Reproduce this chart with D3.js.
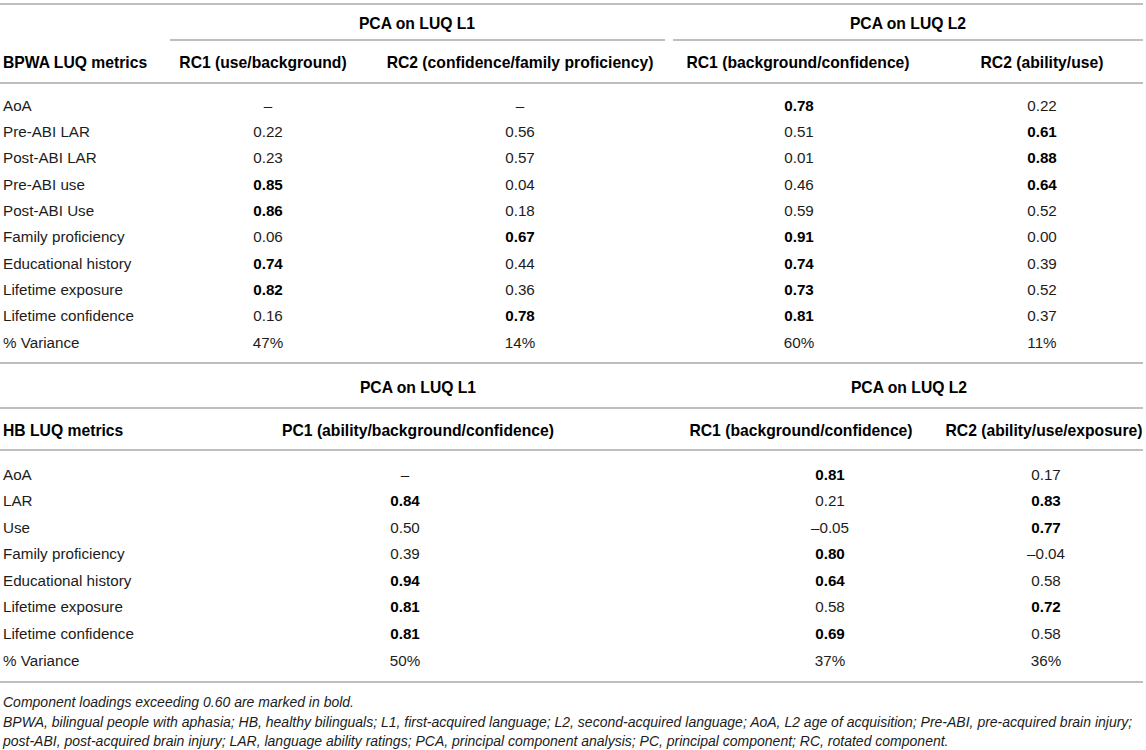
<!DOCTYPE html>
<html>
<head>
<meta charset="utf-8">
<script src="https://cdn.jsdelivr.net/npm/d3@7"></script>
<style>
  body { margin: 0; background: #fff; }
  svg text { font-family: "Liberation Sans", Arial, Helvetica, sans-serif; fill: #1c1c1c; }
</style>
</head>
<body>
<svg id="table"></svg>
<script>
// --- BPWA table data ---
const bpwaMetrics = ['AoA', 'Pre-ABI LAR', 'Post-ABI LAR', 'Pre-ABI use', 'Post-ABI Use',
  'Family proficiency', 'Educational history', 'Lifetime exposure', 'Lifetime confidence'];
const bpwaColumns = ['RC1 (use/background)', 'RC2 (confidence/family proficiency)',
  'RC1 (background/confidence)', 'RC2 (ability/use)'];
const bpwaL1RC1 = [null, 0.22, 0.23, 0.85, 0.86, 0.06, 0.74, 0.82, 0.16];
const bpwaL1RC2 = [null, 0.56, 0.57, 0.04, 0.18, 0.67, 0.44, 0.36, 0.78];
const bpwaL2RC1 = [0.78, 0.51, 0.01, 0.46, 0.59, 0.91, 0.74, 0.73, 0.81];
const bpwaL2RC2 = [0.22, 0.61, 0.88, 0.64, 0.52, 0.00, 0.39, 0.52, 0.37];
const bpwaVariance = [47, 14, 60, 11];

// --- HB table data ---
const hbMetrics = ['AoA', 'LAR', 'Use', 'Family proficiency', 'Educational history',
  'Lifetime exposure', 'Lifetime confidence'];
const hbColumns = ['PC1 (ability/background/confidence)', 'RC1 (background/confidence)',
  'RC2 (ability/use/exposure)'];
const hbL1PC1 = [null, 0.84, 0.50, 0.39, 0.94, 0.81, 0.81];
const hbL2RC1 = [0.81, 0.21, -0.05, 0.80, 0.64, 0.58, 0.69];
const hbL2RC2 = [0.17, 0.83, 0.77, -0.04, 0.58, 0.72, 0.58];
const hbVariance = [50, 37, 36];

const groupLabels = ['PCA on LUQ L1', 'PCA on LUQ L2'];
const footnotes = [
  'Component loadings exceeding 0.60 are marked in bold.',
  'BPWA, bilingual people with aphasia; HB, healthy bilinguals; L1, first-acquired language; L2, second-acquired language; AoA, L2 age of acquisition; Pre-ABI, pre-acquired brain injury;',
  'post-ABI, post-acquired brain injury; LAR, language ability ratings; PCA, principal component analysis; PC, principal component; RC, rotated component.'
];
const boldThreshold = 0.60;

const W = 1146, H = 750;
const left = 3, right = 1143;
const bodySize = 15.2, headSize = 15.7, noteSize = 14;
const ruleColour = '#a8a8a8';

const svg = d3.select('#table').attr('width', W).attr('height', H);

const fmt = v => {
  if (v === null) return '\u2013';
  const s = d3.format('.2f')(Math.abs(v));
  return v < 0 ? '\u2013' + s : s;
};

function rule(y, x0, x1) {
  svg.append('line')
    .attr('x1', x0).attr('x2', x1)
    .attr('y1', y).attr('y2', y)
    .style('stroke', ruleColour)
    .style('stroke-width', 1.5);
}

function label(x, y, txt, opts = {}) {
  svg.append('text')
    .attr('x', x).attr('y', y)
    .attr('dominant-baseline', 'central')
    .attr('text-anchor', opts.anchor || 'middle')
    .style('font-size', (opts.size || bodySize) + 'px')
    .style('font-weight', opts.bold ? 'bold' : null)
    .style('font-style', opts.italic ? 'italic' : null)
    .style('fill', opts.bold ? '#000' : null)
    .text(txt);
}

function drawTable(cfg) {
  const rowY = d3.scaleLinear()
    .domain([0, cfg.metrics.length])
    .range([cfg.firstRow, cfg.lastRow]);

  // spanning group headers
  groupLabels.forEach((g, i) => label(cfg.groupX[i], cfg.groupY, g, { bold: true, size: headSize }));
  cfg.groupRules.forEach(r => rule(cfg.groupRuleY, r[0], r[1]));

  label(left, cfg.headY, cfg.title, { bold: true, anchor: 'start', size: headSize });
  cfg.columns.forEach((c, i) => label(cfg.headX[i], cfg.headY, c, { bold: true, size: headSize }));
  rule(cfg.headRuleY, 0, right);

  const rows = cfg.metrics.concat(['% Variance']);
  rows.forEach((m, r) => label(left, rowY(r), m, { anchor: 'start' }));

  cfg.series.forEach((vals, c) => {
    vals.forEach((v, r) => {
      label(cfg.valX[c], rowY(r), fmt(v), { bold: v !== null && v > boldThreshold });
    });
    label(cfg.valX[c], rowY(cfg.metrics.length), cfg.variance[c] + '%');
  });
  rule(cfg.bottomRuleY, 0, right);
}

rule(4, 0, right);

drawTable({
  title: 'BPWA LUQ metrics',
  metrics: bpwaMetrics,
  columns: bpwaColumns,
  series: [bpwaL1RC1, bpwaL1RC2, bpwaL2RC1, bpwaL2RC2],
  variance: bpwaVariance,
  groupX: [417, 908],
  groupRules: [[170, 665], [673, right]],
  groupY: 23, groupRuleY: 40,
  headY: 62, headRuleY: 83,
  headX: [263, 520, 798, 1042],
  valX: [268, 520, 799, 1042],
  firstRow: 105, lastRow: 342,
  bottomRuleY: 363
});

drawTable({
  title: 'HB LUQ metrics',
  metrics: hbMetrics,
  columns: hbColumns,
  series: [hbL1PC1, hbL2RC1, hbL2RC2],
  variance: hbVariance,
  groupX: [418, 909],
  groupRules: [[0, right]],
  groupY: 387, groupRuleY: 408,
  headY: 430, headRuleY: 450,
  headX: [418, 801, 1044],
  valX: [405, 830, 1046],
  firstRow: 474, lastRow: 660,
  bottomRuleY: 682
});

footnotes.forEach((f, i) => {
  label(left, 702 + i * 19.5, f, { italic: true, anchor: 'start', size: noteSize });
});
</script>
</body>
</html>
